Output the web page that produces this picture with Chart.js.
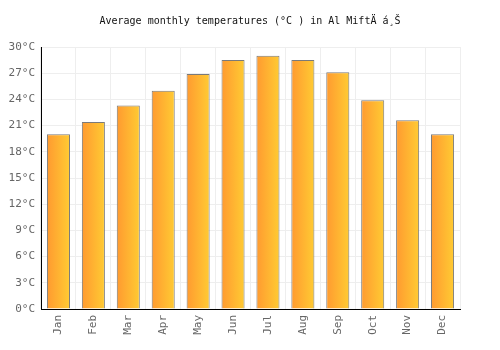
<!DOCTYPE html>
<html>
<head>
<meta charset="utf-8">
<script src="https://cdn.jsdelivr.net/npm/chart.js@4"></script>
<style>
  html, body { margin: 0; padding: 0; background: #fff; }
  #wrap { width: 500px; height: 350px; }
</style>
</head>
<body>
<div id="wrap"><canvas id="tempChart" width="500" height="350"></canvas></div>
<script>
// monthly data
const months = ['Jan', 'Feb', 'Mar', 'Apr', 'May', 'Jun', 'Jul', 'Aug', 'Sep', 'Oct', 'Nov', 'Dec'];
const avgTemps = [20.0, 21.4, 23.3, 25.0, 26.9, 28.5, 29.0, 28.5, 27.1, 23.9, 21.6, 20.0];
const yMin = 0;
const yMax = 30;
const yStep = 3;
const titleText = 'Average monthly temperatures (°C ) in Al MiftÄ á¸Š';

const mono = 'DejaVu Sans Mono, monospace';
const barPct = 0.66;

function barGradient(ctx) {
  const chart = ctx.chart;
  const xs = chart.scales.x;
  if (!xs || !chart.chartArea) return '#ffb030';
  const x = xs.getPixelForValue(ctx.dataIndex);
  const half = (xs.width / months.length) * barPct / 2;
  const g = chart.ctx.createLinearGradient(x - half, 0, x + half, 0);
  g.addColorStop(0, '#ff9a30');
  g.addColorStop(1, '#ffcb33');
  return g;
}

const myChart = new Chart('tempChart', {
  type: 'bar',
  data: {
    labels: months,
    datasets: [{
      data: avgTemps,
      backgroundColor: barGradient,
      borderColor: '#7a7a7a',
      borderWidth: 1,
      barPercentage: barPct,
      categoryPercentage: 1
    }]
  },
  options: {
    responsive: false,
    animation: false,
    layout: { padding: 0 },
    plugins: {
      legend: { display: false },
      tooltip: { enabled: false },
      title: {
        display: true,
        text: titleText,
        color: '#111',
        font: { family: mono, size: 10, weight: 'normal' },
        padding: { top: 15, bottom: 20 }
      }
    },
    scales: {
      x: {
        grid: { color: '#eeeeee', offset: true, drawTicks: false },
        border: { color: '#000', width: 1 },
        ticks: {
          color: '#666',
          font: { family: mono, size: 11 },
          minRotation: 90,
          maxRotation: 90,
          padding: 6
        },
        afterFit: function (scale) { scale.height = 41; }
      },
      y: {
        min: yMin,
        max: yMax,
        grid: { color: '#eeeeee', drawTicks: false },
        border: { color: '#000', width: 1 },
        ticks: {
          stepSize: yStep,
          color: '#666',
          font: { family: mono, size: 11 },
          padding: 6,
          callback: function (v) { return v + '°C'; }
        },
        afterFit: function (scale) { scale.width = 41; }
      },
      // empty right-hand axis, only reserves the right margin
      yRight: {
        position: 'right',
        min: yMin,
        max: yMax,
        grid: { display: false },
        border: { display: false },
        ticks: { display: false },
        afterFit: function (scale) { scale.width = 40; }
      }
    }
  }
});
</script>
</body>
</html>
